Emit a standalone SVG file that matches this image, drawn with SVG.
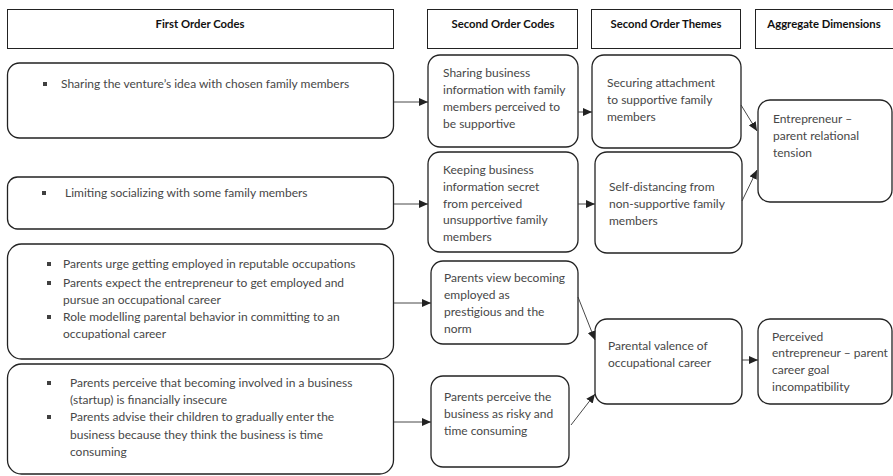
<svg xmlns="http://www.w3.org/2000/svg" width="893" height="476" viewBox="0 0 893 476">
<defs>
<style>
.hdr{fill:#fff;stroke:#222;stroke-width:1}
.box{fill:#fff;stroke:#222;stroke-width:1.3}
.ht{font-family:Lato,"Liberation Sans",sans-serif;font-size:11.3px;font-weight:bold;fill:#111;text-anchor:middle}
.t{font-family:Lato,"Liberation Sans",sans-serif;font-size:12px;fill:#474747}
.b{fill:#404040}
.c{stroke:#333;stroke-width:0.9;fill:none;marker-end:url(#ah)}
</style>
<marker id="ah" markerUnits="userSpaceOnUse" markerWidth="9" markerHeight="8" refX="9" refY="4" orient="auto">
<path d="M0,0 L9,4 L0,8 Z" fill="#222"/>
</marker>
</defs>
<g id="headers">
<rect class="hdr" x="7.5" y="9.5" width="386" height="39"/>
<text class="ht" x="200" y="27.5">First Order Codes</text>
<rect class="hdr" x="427.5" y="9.5" width="150" height="39"/>
<text class="ht" x="503" y="27.5">Second Order Codes</text>
<rect class="hdr" x="591.5" y="9.5" width="149" height="39"/>
<text class="ht" x="666" y="27.5">Second Order Themes</text>
<rect class="hdr" x="755.5" y="9.5" width="145" height="39"/>
<text class="ht" x="824" y="27.5">Aggregate Dimensions</text>
</g>
<g id="fo1">
<rect class="box" x="7.5" y="63" width="386" height="75" rx="12"/>
<rect class="b" x="43" y="82" width="4" height="4"/>
<text class="t" x="61" y="88">Sharing the venture’s idea with chosen family members</text>
</g>
<g id="fo2">
<rect class="box" x="7.5" y="177" width="386" height="52" rx="10"/>
<rect class="b" x="42" y="191" width="4" height="4"/>
<text class="t" x="65" y="197">Limiting socializing with some family members</text>
</g>
<g id="fo3">
<rect class="box" x="7.5" y="244" width="386" height="115" rx="14"/>
<rect class="b" x="47" y="262" width="4" height="4"/>
<rect class="b" x="47" y="281" width="4" height="4"/>
<rect class="b" x="47" y="315" width="4" height="4"/>
<text class="t" x="63" y="268">Parents urge getting employed in reputable occupations</text>
<text class="t" x="63" y="287">Parents expect the entrepreneur to get employed and</text>
<text class="t" x="63" y="304">pursue an occupational career</text>
<text class="t" x="63" y="321">Role modelling parental behavior in committing to an</text>
<text class="t" x="63" y="338">occupational career</text>
</g>
<g id="fo4">
<rect class="box" x="7.5" y="364" width="386" height="110" rx="14"/>
<rect class="b" x="47" y="381" width="4" height="4"/>
<rect class="b" x="47" y="415" width="4" height="4"/>
<text class="t" x="70" y="387">Parents perceive that becoming involved in a business</text>
<text class="t" x="70" y="404">(startup) is financially insecure</text>
<text class="t" x="70" y="421">Parents advise their children to gradually enter the</text>
<text class="t" x="70" y="439">business because they think the business is time</text>
<text class="t" x="70" y="456">consuming</text>
</g>
<g id="so1">
<rect class="box" x="428" y="55" width="150" height="92" rx="12"/>
<text class="t" x="443" y="77">Sharing business</text>
<text class="t" x="443" y="94">information with family</text>
<text class="t" x="443" y="111">members perceived to</text>
<text class="t" x="443" y="128">be supportive</text>
</g>
<g id="so2">
<rect class="box" x="428" y="152" width="150" height="100" rx="12"/>
<text class="t" x="443" y="174">Keeping business</text>
<text class="t" x="443" y="191">information secret</text>
<text class="t" x="443" y="208">from perceived</text>
<text class="t" x="443" y="224">unsupportive family</text>
<text class="t" x="443" y="241">members</text>
</g>
<g id="so3">
<rect class="box" x="431" y="261" width="147" height="83" rx="12"/>
<text class="t" x="444" y="282">Parents view becoming</text>
<text class="t" x="444" y="299">employed as</text>
<text class="t" x="444" y="316">prestigious and the</text>
<text class="t" x="444" y="333">norm</text>
</g>
<g id="so4">
<rect class="box" x="431" y="376" width="138" height="91" rx="12"/>
<text class="t" x="444" y="401">Parents perceive the</text>
<text class="t" x="444" y="418">business as risky and</text>
<text class="t" x="444" y="435">time consuming</text>
</g>
<g id="th1">
<rect class="box" x="592" y="55" width="149" height="93" rx="12"/>
<text class="t" x="607" y="87">Securing attachment</text>
<text class="t" x="607" y="104">to supportive family</text>
<text class="t" x="607" y="121">members</text>
</g>
<g id="th2">
<rect class="box" x="595" y="152" width="147" height="101" rx="12"/>
<text class="t" x="609" y="191">Self-distancing from</text>
<text class="t" x="609" y="208">non-supportive family</text>
<text class="t" x="609" y="225">members</text>
</g>
<g id="th3">
<rect class="box" x="595" y="319" width="147" height="85" rx="12"/>
<text class="t" x="608" y="350">Parental valence of</text>
<text class="t" x="608" y="367">occupational career</text>
</g>
<g id="ag1">
<rect class="box" x="758" y="100" width="134" height="102" rx="12"/>
<text class="t" x="773" y="123">Entrepreneur –</text>
<text class="t" x="773" y="140">parent relational</text>
<text class="t" x="773" y="157">tension</text>
</g>
<g id="ag2">
<rect class="box" x="758" y="319" width="134" height="85" rx="12"/>
<text class="t" x="772" y="341">Perceived</text>
<text class="t" x="772" y="357">entrepreneur – parent</text>
<text class="t" x="772" y="374">career goal</text>
<text class="t" x="772" y="391">incompatibility</text>
</g>
<g id="connectors">
<line class="c" x1="394" y1="102" x2="428" y2="102"/>
<line class="c" x1="394" y1="204" x2="428" y2="204"/>
<line class="c" x1="394" y1="303" x2="431" y2="303"/>
<line class="c" x1="394" y1="422" x2="431" y2="422"/>
<line class="c" x1="578" y1="112" x2="592" y2="112"/>
<line class="c" x1="578" y1="204" x2="595" y2="204"/>
<line class="c" x1="741" y1="105" x2="757" y2="131"/>
<line class="c" x1="742" y1="201" x2="757" y2="170"/>
<line class="c" x1="578" y1="297" x2="595" y2="340"/>
<line class="c" x1="571" y1="425" x2="595" y2="394"/>
<line class="c" x1="742" y1="360" x2="758" y2="360"/>
</g>
</svg>
